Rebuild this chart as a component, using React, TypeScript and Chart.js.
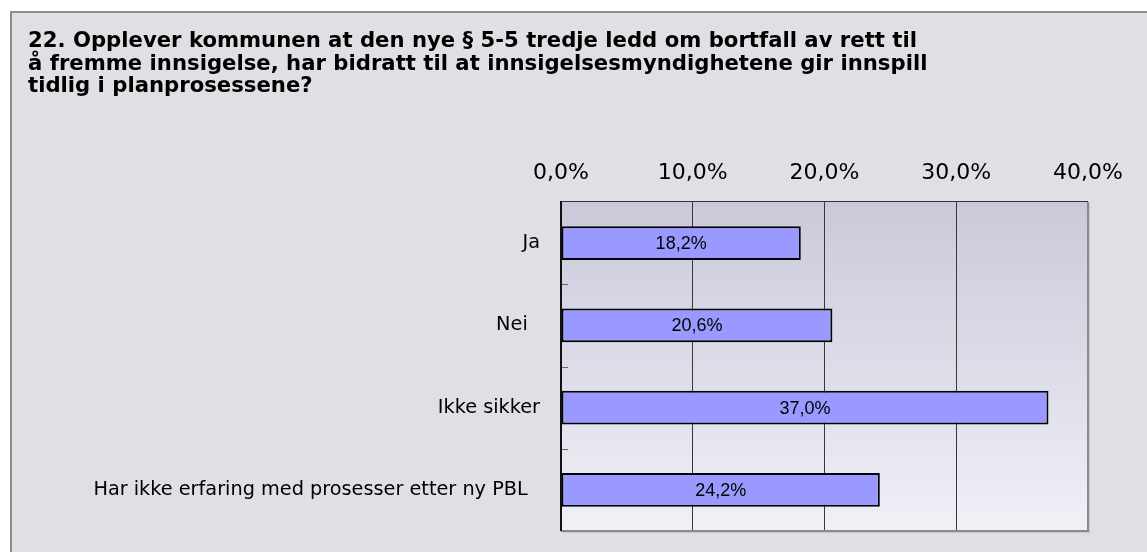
import React, { useEffect, useRef } from 'react';
import { Chart, registerables } from 'chart.js';

Chart.register(...registerables);

const titleLines = [
  '22. Opplever kommunen at den nye § 5-5 tredje ledd om bortfall av rett til',
  'å fremme innsigelse, har bidratt til at innsigelsesmyndighetene gir innspill',
  'tidlig i planprosessene?',
];
const categories = ['Ja', 'Nei  ', 'Ikke sikker', 'Har ikke erfaring med prosesser etter ny PBL  '];
const values = [18.2, 20.6, 37.0, 24.2];
const xTicks = [0, 10, 20, 30, 40];

const fmt = (v: number) => Number(v).toFixed(1).replace('.', ',') + '%';

const plotBg = {
  id: 'plotBg',
  beforeDraw(chart: any) {
    const { ctx, chartArea: a } = chart;
    const g = ctx.createLinearGradient(0, a.top, 0, a.bottom);
    g.addColorStop(0, '#c9c9da');
    g.addColorStop(1, '#f0f0f7');
    ctx.save();
    ctx.fillStyle = g;
    ctx.fillRect(a.left, a.top, a.right - a.left, a.bottom - a.top);
    ctx.restore();
  },
};

const decorations = {
  id: 'decorations',
  afterDatasetsDraw(chart: any) {
    const { ctx } = chart;
    const meta = chart.getDatasetMeta(0);
    ctx.save();
    ctx.font = '18px "Liberation Sans", Arial, sans-serif';
    ctx.fillStyle = '#000';
    ctx.textAlign = 'center';
    ctx.textBaseline = 'middle';
    meta.data.forEach((bar: any, i: number) => {
      const p = bar.getProps(['x', 'y', 'base'], true);
      ctx.fillText(fmt(values[i]), (p.x + p.base) / 2, p.y + 1);
    });
    ctx.restore();
  },
  afterDraw(chart: any) {
    const { ctx, chartArea: a } = chart;
    const yScale = chart.scales.y;
    ctx.save();
    // minor ticks between categories
    ctx.strokeStyle = '#666';
    ctx.lineWidth = 1;
    for (let i = 0; i < categories.length - 1; i++) {
      const y = Math.round((yScale.getPixelForValue(i) + yScale.getPixelForValue(i + 1)) / 2) + 0.5;
      ctx.beginPath();
      ctx.moveTo(a.left, y);
      ctx.lineTo(a.left + 7, y);
      ctx.stroke();
    }
    // frame
    ctx.fillStyle = '#8a8a8a';
    ctx.fillRect(a.right - 1, a.top, 2, a.bottom - a.top + 1);
    ctx.fillRect(a.left, a.bottom - 1, a.right - a.left + 1, 2);
    ctx.fillStyle = '#c8c8cc';
    ctx.fillRect(a.right + 1, a.top + 1, 1, a.bottom - a.top + 2);
    ctx.fillRect(a.left + 1, a.bottom + 1, a.right - a.left + 1, 1);
    ctx.fillStyle = '#333';
    ctx.fillRect(a.left, a.top - 1, a.right - a.left, 1);
    ctx.fillStyle = '#111';
    ctx.fillRect(a.left - 1, a.top - 1, 2, a.bottom - a.top + 1);
    ctx.restore();
  },
};

export default function App() {
  const ref = useRef<HTMLCanvasElement>(null);

  useEffect(() => {
    if (!ref.current) return;
    const chart = new Chart(ref.current, {
      type: 'bar',
      data: {
        labels: categories,
        datasets: [
          {
            data: values,
            backgroundColor: '#9999ff',
            borderColor: '#000',
            borderWidth: 2,
            borderSkipped: false,
            barPercentage: 0.41,
            categoryPercentage: 1,
          },
        ],
      },
      options: {
        indexAxis: 'y',
        animation: false,
        responsive: false,
        devicePixelRatio: 1,
        events: [],
        layout: { padding: { left: 28, top: 12, right: 59, bottom: 21 } },
        plugins: {
          legend: { display: false },
          tooltip: { enabled: false },
          title: {
            display: true,
            text: titleLines,
            align: 'start',
            color: '#000',
            font: { family: 'DejaVu Sans', size: 21.2, weight: 'bold', lineHeight: 22.5 / 21.2 },
            padding: { top: 18.5, bottom: 0 },
          },
        },
        scales: {
          x: {
            position: 'top',
            min: 0,
            max: 40,
            afterBuildTicks: (s: any) => {
              s.ticks = xTicks.map((v) => ({ value: v }));
            },
            afterFit: (s: any) => {
              s.height = 104;
              s.paddingTop = 0;
              s.paddingBottom = 0;
            },
            ticks: {
              callback: (v: any) => fmt(v),
              font: { family: 'DejaVu Sans', size: 22 },
              color: '#000',
              padding: 16,
              maxRotation: 0,
              autoSkip: false,
            },
            grid: { color: '#383838', lineWidth: 1, drawTicks: false },
            border: { display: false },
          },
          y: {
            afterFit: (s: any) => {
              s.width = 533;
              s.paddingTop = 0;
              s.paddingBottom = 0;
            },
            ticks: {
              font: { family: 'DejaVu Sans', size: 19.3 },
              color: '#000',
              padding: 21,
            },
            grid: { display: false, drawTicks: false },
            border: { display: false },
          },
        },
      },
      plugins: [plotBg, decorations],
    } as any);
    return () => chart.destroy();
  }, []);

  return (
    <>
      <div
        style={{
          position: 'fixed',
          left: 10,
          top: 11,
          width: 1400,
          height: 800,
          border: '2px solid #8c8c8c',
          background: '#e0dfe4',
          boxSizing: 'border-box',
        }}
      />
      <canvas
        ref={ref}
        width={1147}
        height={552}
        style={{ position: 'fixed', left: 0, top: 0, width: 1147, height: 552 }}
      />
    </>
  );
}
